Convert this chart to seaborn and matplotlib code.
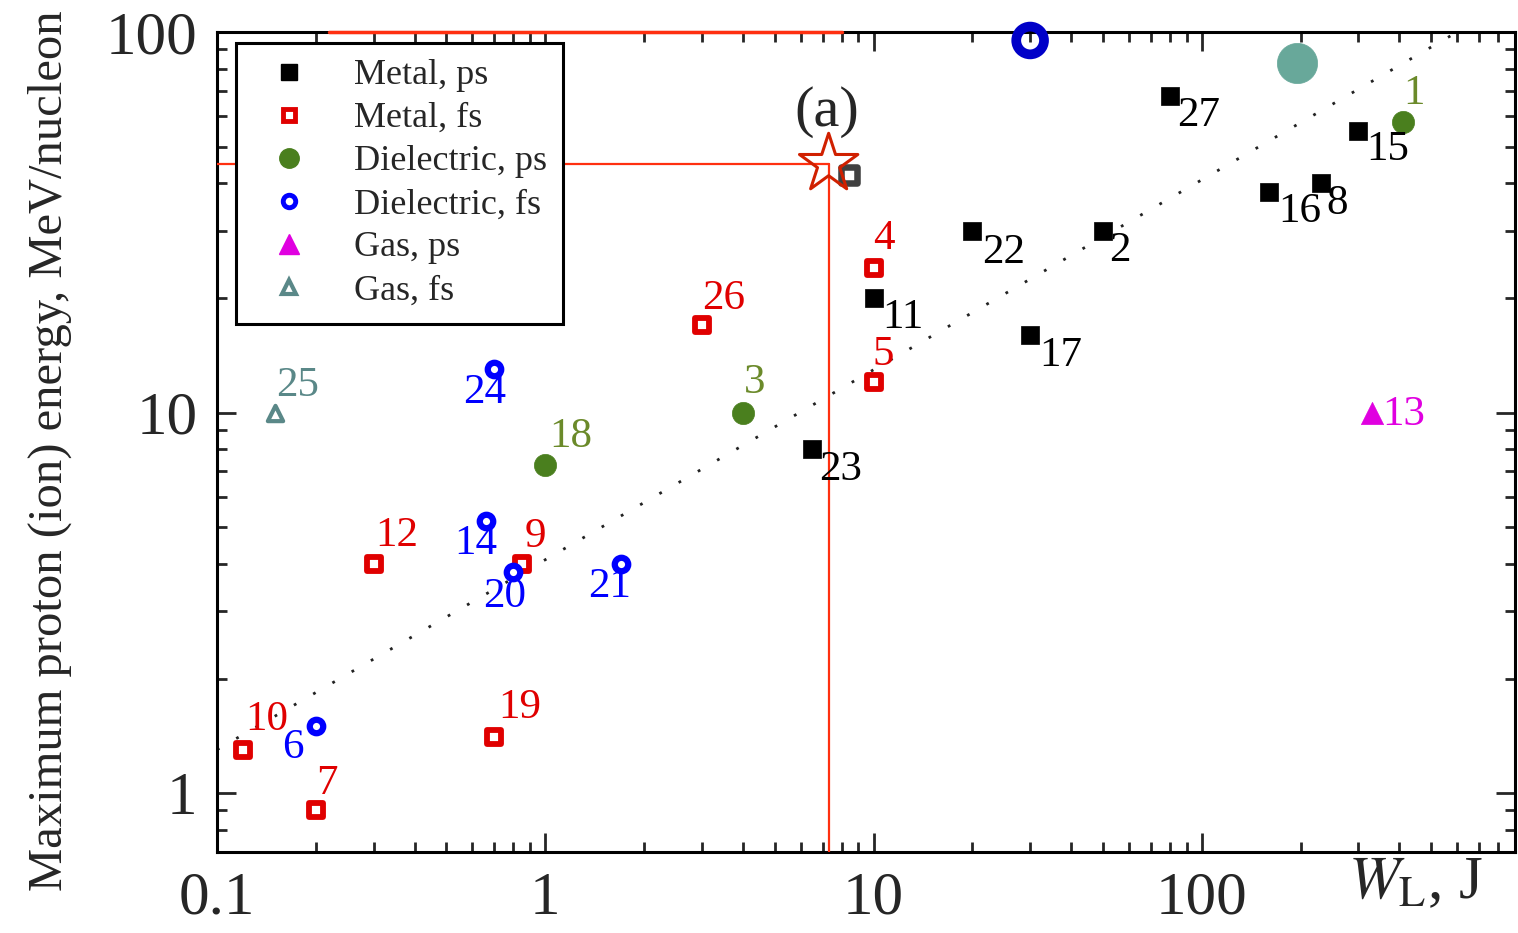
import numpy as np
import pandas as pd
import seaborn as sns
import matplotlib.pyplot as plt
from matplotlib.lines import Line2D
from matplotlib.ticker import LogLocator, NullFormatter, FixedLocator, FixedFormatter

# laser energy W_L (J) and maximum proton energy (MeV/nucleon), one set per group
metal_ps_w = [80, 300, 160, 230, 20, 50, 10, 30, 6.5]
metal_ps_e = [68, 55, 38, 40, 30, 30, 20, 16, 8.0]
metal_ps_id = ["27", "15", "16", "8", "22", "2", "11", "17", "23"]

metal_fs_w = [10, 10, 3.0, 0.3, 0.85, 0.12, 0.2, 0.7]
metal_fs_e = [24, 12, 17, 4.0, 4.0, 1.3, 0.9, 1.4]
metal_fs_id = ["4", "5", "26", "12", "9", "10", "7", "19"]

diel_ps_w = [410, 4.0, 1.0]
diel_ps_e = [58, 10, 7.3]
diel_ps_id = ["1", "3", "18"]

diel_fs_w = [0.7, 0.66, 0.8, 1.7, 0.2]
diel_fs_e = [13, 5.2, 3.8, 4.0, 1.5]
diel_fs_id = ["24", "14", "20", "21", "6"]

gas_ps_w = [330]
gas_ps_e = [10]
gas_ps_id = ["13"]

gas_fs_w = [0.15]
gas_fs_e = [10]
gas_fs_id = ["25"]

# extra highlighted points
ring_w, ring_e = [30], [95]
disk_w, disk_e = [195], [83]
star_w, star_e = [7.3], [45]
gray_sq_w, gray_sq_e = [8.4], [42]

# dotted scaling line and red guide lines
fit_w = [0.1, 600]
fit_e = [1.3, 100]
top_line_w = [0.22, 8.0]

xticks = [0.1, 1, 10, 100]
xtick_labels = ["0.1", "1", "10", "100"]
yticks = [1, 10, 100]
ytick_labels = ["1", "10", "100"]

# label offsets in pixels (dx, dy)
label_offsets = {
    "27": (29, -20), "15": (29, -19), "16": (31, -20), "8": (17, -20),
    "22": (31, -22), "2": (17, -20), "11": (29, -20), "17": (31, -21),
    "23": (28, -20), "4": (10, 29), "5": (10, 28), "26": (22, 26),
    "12": (23, 28), "9": (13, 27), "10": (24, 30), "7": (11, 27),
    "19": (25, 30), "1": (11, 28), "3": (12, 30), "18": (25, 28),
    "24": (-10, -24), "14": (-10, -23), "20": (-9, -24), "21": (-11, -23),
    "6": (-23, -22), "13": (32, -2), "25": (23, 27),
}

sns.set_style("ticks")
plt.rcParams['font.family'] = ['Liberation Serif', 'DejaVu Serif']
plt.rcParams['mathtext.fontset'] = 'stix'

fig = plt.figure(figsize=(15.18, 9.33), dpi=100)
ax = fig.add_axes([217 / 1518, 81 / 933, 1298 / 1518, 820 / 933])
ax.set_xscale("log")
ax.set_yscale("log")
ax.set_xlim(0.1, 900)
ax.set_ylim(0.7, 100)


def draw_group(w, e, ids, marker, size, face, edge, lw, text_color):
    sns.scatterplot(x=w, y=e, ax=ax, marker=marker, s=size, facecolor=face,
                    edgecolor=edge, linewidth=lw, zorder=4)
    for xi, yi, lab in zip(w, e, ids):
        dx, dy = label_offsets[lab]
        ax.annotate(lab, (xi, yi), xytext=(dx, dy), textcoords="offset pixels",
                    ha="center", va="center", color=text_color, fontsize=31, zorder=5)


# dotted line and red guides
ax.plot(fit_w, fit_e, color="#222222", lw=2.0, linestyle=(0, (1, 7)), zorder=2)
ax.plot([0.1, star_w[0]], [star_e[0], star_e[0]], color="#ff3010", lw=1.6, zorder=3)
ax.plot([star_w[0], star_w[0]], [0.7, star_e[0]], color="#ff3010", lw=1.6, zorder=3)
ax.plot(top_line_w, [100, 100], color="#ff3010", lw=2.5, zorder=3, clip_on=False)

draw_group(metal_ps_w, metal_ps_e, metal_ps_id, "s", 169, "black", "black", 0.5, "black")
draw_group(metal_fs_w, metal_fs_e, metal_fs_id, "s", 114, "white", "#e00000", 4.2, "#e00000")
draw_group(diel_ps_w, diel_ps_e, diel_ps_id, "o", 256, "#4a7f1e", "#4a7f1e", 0.5, "#6b8a2a")
draw_group(diel_fs_w, diel_fs_e, diel_fs_id, "o", 94, "white", "#0000ff", 4.5, "#0000ff")
draw_group(gas_ps_w, gas_ps_e, gas_ps_id, "^", 256, "#e000e0", "#e000e0", 0.5, "#e000e0")
draw_group(gas_fs_w, gas_fs_e, gas_fs_id, "^", 121, "white", "#5a8888", 3.0, "#5a8888")

# highlighted points
sns.scatterplot(x=ring_w, y=ring_e, ax=ax, marker="o", s=400, facecolor="none",
                edgecolor="#0000c8", linewidth=7, zorder=4, clip_on=False)
sns.scatterplot(x=disk_w, y=disk_e, ax=ax, marker="o", s=841, facecolor="#68a89a",
                edgecolor="#68a89a", linewidth=0.5, zorder=4)
sns.scatterplot(x=gray_sq_w, y=gray_sq_e, ax=ax, marker="s", s=144, facecolor="white",
                edgecolor="#404040", linewidth=4.7, zorder=4)
sns.scatterplot(x=star_w, y=star_e, ax=ax, marker="*", s=1950, facecolor="none",
                edgecolor="#d02000", linewidth=2.2, zorder=5)

ax.text(0.47, 0.902, "(a)", transform=ax.transAxes, ha="center", va="center", fontsize=42)

# axes styling
ax.xaxis.set_major_locator(FixedLocator(xticks))
ax.xaxis.set_major_formatter(FixedFormatter(xtick_labels))
ax.yaxis.set_major_locator(FixedLocator(yticks))
ax.yaxis.set_major_formatter(FixedFormatter(ytick_labels))
ax.xaxis.set_minor_locator(LogLocator(base=10, subs=np.arange(2, 10), numticks=20))
ax.yaxis.set_minor_locator(LogLocator(base=10, subs=np.arange(2, 10), numticks=20))
ax.xaxis.set_minor_formatter(NullFormatter())
ax.yaxis.set_minor_formatter(NullFormatter())
ax.tick_params(which="both", direction="in", top=True, right=True, width=2, labelsize=44)
ax.tick_params(which="major", length=14, pad=14)
ax.tick_params(which="minor", length=7)
for sp in ax.spines.values():
    sp.set_linewidth(2.2)
    sp.set_color("black")

ax.set_ylabel("Maximum proton (ion) energy, MeV/nucleon", fontsize=35)
ax.yaxis.set_label_coords(-0.112, 0.49)
ax.set_xlabel(r"$W_{\rm L}$, J", fontsize=44)
ax.xaxis.set_label_coords(0.923, -0.005)

handles = [
    Line2D([], [], ls="none", marker="s", ms=11, mfc="black", mec="black"),
    Line2D([], [], ls="none", marker="s", ms=8, mfc="white", mec="#e00000", mew=3.5),
    Line2D([], [], ls="none", marker="o", ms=14, mfc="#4a7f1e", mec="#4a7f1e"),
    Line2D([], [], ls="none", marker="o", ms=9, mfc="white", mec="#0000ff", mew=3.5),
    Line2D([], [], ls="none", marker="^", ms=14, mfc="#e000e0", mec="#e000e0"),
    Line2D([], [], ls="none", marker="^", ms=10, mfc="white", mec="#5a8888", mew=3),
]
labels = ["Metal, ps", "Metal, fs", "Dielectric, ps", "Dielectric, fs", "Gas, ps", "Gas, fs"]
leg = ax.legend(handles, labels, loc="upper left", bbox_to_anchor=(0.015, 0.987),
                borderaxespad=0, fontsize=26, frameon=True, fancybox=False,
                edgecolor="black", framealpha=1, labelspacing=0.27,
                handlelength=2.0, handletextpad=0.8, borderpad=0.45)
leg.get_frame().set_linewidth(2.2)
leg.set_zorder(3)

fig.savefig("out.png", dpi=100)
